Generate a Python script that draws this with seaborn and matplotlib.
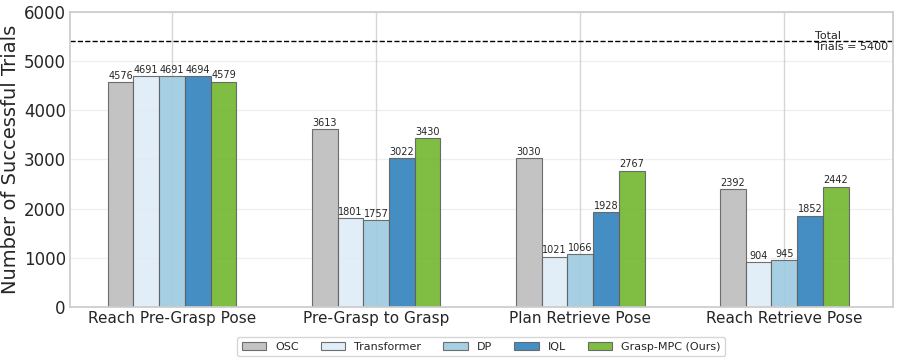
import pandas as pd
import numpy as np
import matplotlib
matplotlib.use("Agg")
import matplotlib.pyplot as plt
import seaborn as sns

sns.set_theme(style="whitegrid")
plt.rcParams['font.family'] = ['DejaVu Sans']

# data
stages = ["Reach Pre-Grasp Pose", "Pre-Grasp to Grasp", "Plan Retrieve Pose", "Reach Retrieve Pose"]
methods = ["OSC", "Transformer", "DP", "IQL", "Grasp-MPC (Ours)"]
osc = [4576, 3613, 3030, 2392]
transformer = [4691, 1801, 1021, 904]
dp = [4691, 1757, 1066, 945]
iql = [4694, 3022, 1928, 1852]
grasp_mpc = [4579, 3430, 2767, 2442]
total_trials = 5400

colors = ["#bdbdbd", "#deebf7", "#9ecae1", "#3182bd", "#72b62e"]

rows = []
for m, vals in zip(methods, [osc, transformer, dp, iql, grasp_mpc]):
    for s, v in zip(stages, vals):
        rows.append({"stage": s, "method": m, "count": v})
df = pd.DataFrame(rows)

fig, ax = plt.subplots(figsize=(8.97, 3.61), dpi=100)
sns.barplot(data=df, x="stage", y="count", hue="method", palette=colors,
            saturation=1, width=0.63, edgecolor="#606060", linewidth=0.8,
            alpha=0.9, errorbar=None, ax=ax)

for cont in ax.containers:
    ax.bar_label(cont, fontsize=7, padding=1)

ax.axhline(total_trials, color="black", linestyle="--", linewidth=1)
ax.text(3.15, total_trials, "Total\nTrials = 5400", fontsize=8, va="center", ha="left")

ax.set_ylim(0, 6000)
ax.set_xlim(-0.5, 3.53)
ax.set_xlabel("")
ax.set_ylabel("Number of Successful Trials", fontsize=14, labelpad=3)
ax.tick_params(axis="both", length=0, pad=3)
ax.tick_params(axis="x", labelsize=11)
ax.tick_params(axis="y", labelsize=12)
ax.yaxis.grid(True, alpha=0.3)
ax.xaxis.grid(True, alpha=0.8)

ax.legend(loc="upper center", bbox_to_anchor=(0.5, -0.085), ncol=5, fontsize=8,
          frameon=True, handlelength=2.2, columnspacing=2.0)

plt.subplots_adjust(left=0.078, right=0.995, top=0.967, bottom=0.15)
plt.savefig("out.png", dpi=100)
